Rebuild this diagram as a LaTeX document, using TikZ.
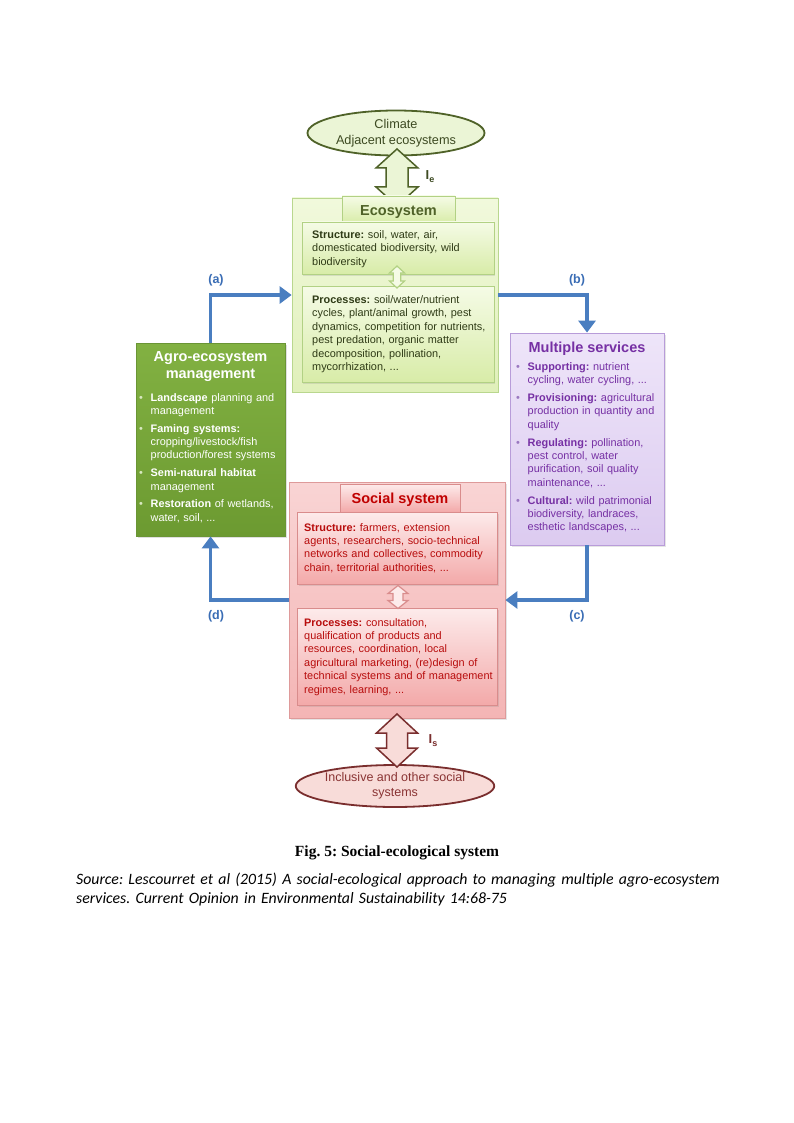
\documentclass[tikz,border=0pt]{standalone}
\usepackage{fontspec}
\setmainfont{Liberation Sans}
\newfontfamily\capfont{Liberation Serif}
\newfontfamily\srcfont{Carlito}
\usetikzlibrary{arrows.meta,shadows,calc,shapes.geometric}
\frenchspacing
\definecolor{ecoOutTop}{HTML}{F1F9DC}
\definecolor{ecoOutBot}{HTML}{E0F0BA}
\definecolor{ecoBorder}{HTML}{B9D78E}
\definecolor{ecoInTop}{HTML}{F5FBE6}
\definecolor{ecoInBot}{HTML}{D8ECA8}
\definecolor{ecoInBorder}{HTML}{B2D184}
\definecolor{ecoText}{HTML}{2F3B16}
\definecolor{ecoTitle}{HTML}{4F6228}
\definecolor{agroTop}{HTML}{82B142}
\definecolor{agroBot}{HTML}{6C9A31}
\definecolor{agroBorder}{HTML}{6A9535}
\definecolor{servTop}{HTML}{EEE5F9}
\definecolor{servBot}{HTML}{DCCBF0}
\definecolor{servBorder}{HTML}{B89CD9}
\definecolor{servText}{HTML}{7630A4}
\definecolor{servBullet}{HTML}{9A78C0}
\definecolor{agroBullet}{HTML}{D8E8C0}
\definecolor{socOutTop}{HTML}{F9D4D4}
\definecolor{socOutBot}{HTML}{F4B5B5}
\definecolor{socBorder}{HTML}{DE9A9A}
\definecolor{socInTop}{HTML}{FDEBEB}
\definecolor{socInBot}{HTML}{F3A9A9}
\definecolor{socInBorder}{HTML}{D98C8C}
\definecolor{socText}{HTML}{B80D0D}
\definecolor{socTitle}{HTML}{C00000}
\definecolor{linkBlue}{HTML}{4A7EC0}
\definecolor{labBlue}{HTML}{3A6DB5}
\definecolor{topEllFill}{HTML}{EBF5D6}
\definecolor{topEllBorder}{HTML}{4F6228}
\definecolor{topEllText}{HTML}{3D4A22}
\definecolor{botEllFill}{HTML}{F8DCD9}
\definecolor{botEllBorder}{HTML}{7A2E2E}
\definecolor{botEllText}{HTML}{8A3434}
\newcommand{\dbarrow}[6]{%
 \pgfmathsetmacro\dbb{#2-#3}%
 \draw[#6] ($(#1)+(0,-#2)$) -- ($(#1)+(#4,-\dbb)$) -- ($(#1)+(#5,-\dbb)$) -- ($(#1)+(#5,\dbb)$) -- ($(#1)+(#4,\dbb)$) -- ($(#1)+(0,#2)$) -- ($(#1)+(-#4,\dbb)$) -- ($(#1)+(-#5,\dbb)$) -- ($(#1)+(-#5,-\dbb)$) -- ($(#1)+(-#4,-\dbb)$) -- cycle;}
\newcommand{\bul}[1]{\makebox[11.5pt][l]{\textcolor{#1}{•}}}
\newcommand{\ind}{\hspace*{11.5pt}}
\begin{document}
\begin{tikzpicture}[x=1pt,y=-1pt,
  boxbase/.style={rectangle, inner sep=0pt},
  ecoout/.style={boxbase, draw=ecoBorder, line width=0.8pt, top color=ecoOutTop, bottom color=ecoOutBot},
  ecoin/.style={boxbase, draw=ecoInBorder, line width=0.8pt, top color=ecoInTop, bottom color=ecoInBot, drop shadow={opacity=0.2, shadow xshift=1pt, shadow yshift=-1.5pt}},
  agrobox/.style={boxbase, draw=agroBorder, line width=0.8pt, top color=agroTop, bottom color=agroBot, drop shadow={opacity=0.25, shadow xshift=1.5pt, shadow yshift=-2pt}},
  servbox/.style={boxbase, draw=servBorder, line width=0.8pt, top color=servTop, bottom color=servBot, drop shadow={opacity=0.2, shadow xshift=1.5pt, shadow yshift=-2pt}},
  socout/.style={boxbase, draw=socBorder, line width=0.8pt, top color=socOutTop, bottom color=socOutBot, drop shadow={opacity=0.2, shadow xshift=1.5pt, shadow yshift=-2pt}},
  socin/.style={boxbase, draw=socInBorder, line width=0.8pt, top color=socInTop, bottom color=socInBot, drop shadow={opacity=0.2, shadow xshift=1pt, shadow yshift=-1.5pt}},
  titlefont/.style={font=\fontsize{14.5}{17.5}\selectfont\bfseries},
  bodytext/.style={inner sep=0pt, anchor=base west, align=left, font=\fontsize{10.9}{13.4}\selectfont},
  link/.style={draw=linkBlue, line width=3.2pt, -{Triangle[length=12pt,width=17pt]}},
  linklab/.style={text=labBlue, font=\fontsize{12.5}{14}\selectfont\bfseries}
]
\useasboundingbox[fill=white] (0,0) rectangle (794,1123);

% top ellipse
\node[draw=topEllBorder, fill=topEllFill, text=topEllText, ellipse, inner sep=0pt, line width=1.8pt, align=center, font=\fontsize{12.7}{16}\selectfont, minimum width=177pt, minimum height=45pt] (climate) at (396,133) {Climate\\Adjacent ecosystems};

% ecosystem
\node[ecoout, minimum width=206pt, minimum height=194pt] (eco) at (395,295) {};
\coordinate (ie) at (397,177.5);
\dbarrow{ie}{28.5}{19}{21}{11}{fill=topEllFill, draw=topEllBorder, line width=1.5pt, line join=miter}
\node[text=topEllText, font=\fontsize{13}{15}\selectfont] (ielab) at (430,177) {\bfseries I\raisebox{-3pt}{\fontsize{9}{10}\selectfont\bfseries e}};
\node[ecoin, minimum width=113pt, minimum height=27pt] (ecotitle) at (398.5,209.5) {};
\node[inner sep=0pt, anchor=base, text=ecoTitle, titlefont] (ecotitletxt) at (398.5,215) {Ecosystem};
\node[ecoin, minimum width=192pt, minimum height=52pt] (ecostruct) at (398,248) {};
\node[ecoin, minimum width=192pt, minimum height=96pt] (ecoproc) at (398,334) {};
\coordinate (ecomid) at (397,277);
\dbarrow{ecomid}{11}{7}{7.5}{3.8}{fill=ecoInTop, draw=ecoInBorder, line width=1.2pt}
\node[bodytext, text=ecoText, text width=185pt] (ecostructtxt) at (312,238.5) {\textbf{Structure:} soil, water, air,\\domesticated biodiversity, wild\\biodiversity};
\node[bodytext, text=ecoText, text width=185pt] (ecoproctxt) at (312,303.5) {\textbf{Processes:} soil/water/nutrient\\cycles, plant/animal growth, pest\\dynamics, competition for nutrients,\\pest predation, organic matter\\decomposition, pollination,\\mycorrhization, ...};

% agro-ecosystem management
\node[agrobox, minimum width=149pt, minimum height=193pt] (agro) at (210.5,439.5) {};
\node[inner sep=0pt, anchor=base, text width=145pt, align=center, text=white, titlefont] (agrotitle) at (210.5,361) {Agro-ecosystem\\management};
\node[bodytext, text=white, text width=148pt] (agrotxt) at (139,401) {\bul{agroBullet}\textbf{Landscape} planning and\\\ind management\\[4.3pt]\bul{agroBullet}\textbf{Faming systems:}\\\ind cropping/livestock/fish\\\ind production/forest systems\\[4.3pt]\bul{agroBullet}\textbf{Semi-natural habitat}\\\ind management\\[4.3pt]\bul{agroBullet}\textbf{Restoration} of wetlands,\\\ind water, soil, ...};

% multiple services
\node[servbox, minimum width=154pt, minimum height=212pt] (serv) at (587,439) {};
\node[inner sep=0pt, anchor=base, text=servText, titlefont] (servtitle) at (587,352) {Multiple services};
\node[bodytext, text=servText, text width=150pt] (servtxt) at (516,370) {\bul{servBullet}\textbf{Supporting:} nutrient\\\ind cycling, water cycling, ...\\[4.5pt]\bul{servBullet}\textbf{Provisioning:} agricultural\\\ind production in quantity and\\\ind quality\\[4.5pt]\bul{servBullet}\textbf{Regulating:} pollination,\\\ind pest control, water\\\ind purification, soil quality\\\ind maintenance, ...\\[4.5pt]\bul{servBullet}\textbf{Cultural:} wild patrimonial\\\ind biodiversity, landraces,\\\ind esthetic landscapes, ...};

% social system
\node[socout, minimum width=216pt, minimum height=236pt] (soc) at (397,600) {};
\node[socin, minimum width=120pt, minimum height=28pt] (soctitle) at (400,498) {};
\node[inner sep=0pt, anchor=base, text=socTitle, titlefont] (soctitletxt) at (400,503.5) {Social system};
\node[socin, minimum width=200pt, minimum height=72pt] (socstruct) at (397.5,548) {};
\node[socin, minimum width=200pt, minimum height=97pt] (socproc) at (397.5,656.5) {};
\coordinate (socmid) at (398,597);
\dbarrow{socmid}{11.5}{8}{10}{5}{fill=socInTop, draw=socInBorder, line width=1.2pt}
\node[bodytext, text=socText, text width=195pt] (socstructtxt) at (304,531) {\textbf{Structure:} farmers, extension\\agents, researchers, socio-technical\\networks and collectives, commodity\\chain, territorial authorities, ...};
\node[bodytext, text=socText, text width=195pt] (socproctxt) at (304,626) {\textbf{Processes:} consultation,\\qualification of products and\\resources, coordination, local\\agricultural marketing, (re)design of\\technical systems and of management\\regimes, learning, ...};

% bottom ellipse
\node[draw=botEllBorder, fill=botEllFill, text=botEllText, ellipse, inner sep=0pt, line width=1.8pt, align=center, font=\fontsize{12.5}{15}\selectfont, minimum width=186pt, minimum height=42pt] (inclusive) at (395,786) {Inclusive and other social\\systems};
\coordinate (is) at (397,740.5);
\dbarrow{is}{26.5}{19}{20.5}{10.5}{fill=botEllFill, draw=botEllBorder, line width=1.5pt, line join=miter}
\node[text=botEllBorder, font=\fontsize{13}{15}\selectfont] (islab) at (433,741) {\bfseries I\raisebox{-3pt}{\fontsize{9}{10}\selectfont\bfseries s}};

% links
\draw[link] (agro.north) |- (eco.west);
\draw[link] (eco.east) -| (serv.north);
\draw[link] (serv.south) |- (soc.east);
\draw[link] (soc.west) -| (agro.south);
\node[linklab] (la) at (216,280) {(a)};
\node[linklab] (lb) at (577,280) {(b)};
\node[linklab] (lc) at (577,616) {(c)};
\node[linklab] (ld) at (216,616) {(d)};

% caption
\node[font=\capfont\fontsize{15.5}{18}\selectfont\bfseries] (cap) at (397,853) {Fig. 5: Social-ecological system};
\node[inner sep=0pt, anchor=base west, text width=720pt, align=left, font=\srcfont\itshape\fontsize{15.8}{19}\selectfont] (src) at (76,884) {Source: Lescourret et al (2015) A social-ecological approach to managing multiple agro-ecosystem\\services. Current Opinion in Environmental Sustainability 14:68-75};
\end{tikzpicture}
\end{document}
